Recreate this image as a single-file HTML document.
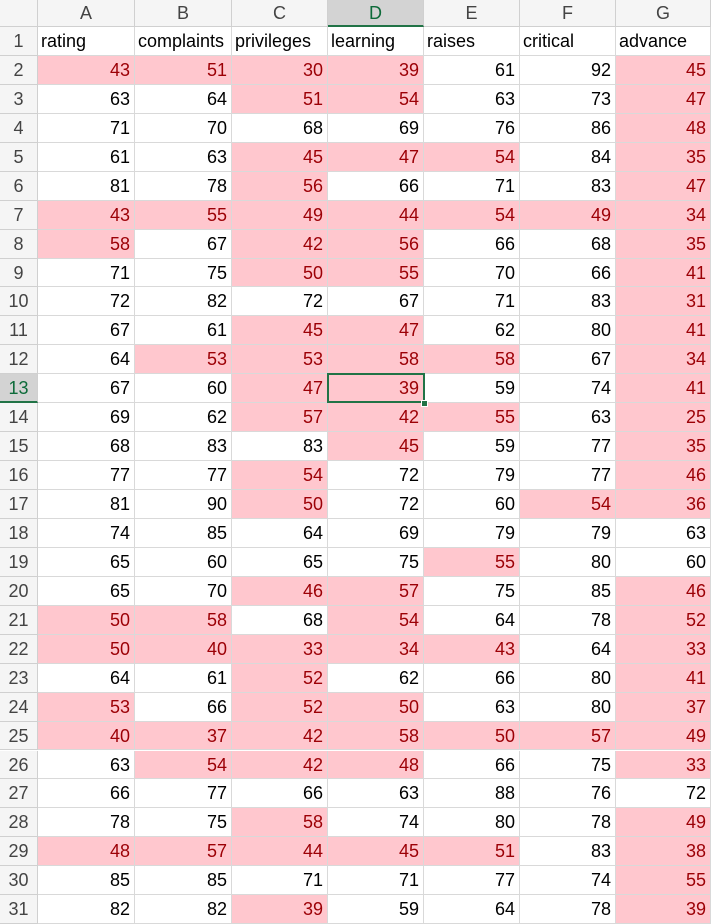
<!DOCTYPE html>
<html><head><meta charset="utf-8"><style>
body{margin:0;width:711px;height:924px;overflow:hidden;background:#fff;font-family:"Liberation Sans",sans-serif;}
#g{position:relative;width:711px;height:924px;}
.c{position:absolute;box-sizing:border-box;border-right:1px solid #d9d9d9;border-bottom:1px solid #d9d9d9;font-size:18px;line-height:28px;white-space:nowrap;overflow:hidden;color:#000;}
.h{background:#f5f5f5;color:#444;text-align:center;border-color:#d0d0d0;}
.n{text-align:right;padding-right:4px;}
.t{padding-left:3px;}
.p{background:#ffc7ce;color:#9c0006;}
.sel{background:#d3d3d3;color:#0e6b3a;border-bottom:2px solid #217346;}
</style></head><body>
<div id="g"></div>
<script>
const colNames=["A","B","C","D","E","F","G"];
const headers=["rating","complaints","privileges","learning","raises","critical","advance"];
const values=[
[43,51,30,39,61,92,45],[63,64,51,54,63,73,47],[71,70,68,69,76,86,48],[61,63,45,47,54,84,35],
[81,78,56,66,71,83,47],[43,55,49,44,54,49,34],[58,67,42,56,66,68,35],[71,75,50,55,70,66,41],
[72,82,72,67,71,83,31],[67,61,45,47,62,80,41],[64,53,53,58,58,67,34],[67,60,47,39,59,74,41],
[69,62,57,42,55,63,25],[68,83,83,45,59,77,35],[77,77,54,72,79,77,46],[81,90,50,72,60,54,36],
[74,85,64,69,79,79,63],[65,60,65,75,55,80,60],[65,70,46,57,75,85,46],[50,58,68,54,64,78,52],
[50,40,33,34,43,64,33],[64,61,52,62,66,80,41],[53,66,52,50,63,80,37],[40,37,42,58,50,57,49],
[63,54,42,48,66,75,33],[66,77,66,63,88,76,72],[78,75,58,74,80,78,49],[48,57,44,45,51,83,38],
[85,85,71,71,77,74,55],[82,82,39,59,64,78,39]];
const flags=[
"1111001","0011001","0000001","0011101","0010001","1111111","1011001","0011001",
"0000001","0011001","0111101","0011001","0011101","0001001","0010001","0010011",
"0000000","0000100","0011001","1101001","1111101","0010001","1011001","1111111",
"0111001","0000000","0010001","1111101","0000001","0010001"];
const xs=[0,38,135,232,328,424,520,616,711];
const g=document.getElementById('g');
const rowTop=r=>r===0?0:27+(r-1)*28.94;
function cell(x,y,w,h,txt,cls){const d=document.createElement('div');d.className='c '+cls;
d.style.left=x+'px';d.style.top=y+'px';d.style.width=w+'px';d.style.height=h+'px';d.textContent=txt;g.appendChild(d);return d;}
let corner=cell(0,0,38,27,'','h');


for(let c=0;c<7;c++){const d=cell(xs[c+1],0,xs[c+2]-xs[c+1],27,colNames[c],'h'+(c===3?' sel':''));d.style.lineHeight='27px';

}
for(let r=1;r<=31;r++){const y=rowTop(r),h=rowTop(r+1)-y;
const rh=cell(0,y,38,h,String(r),'h'+(r===13?' sel':''));


for(let c=0;c<7;c++){let d;
if(r===1){d=cell(xs[c+1],y,xs[c+2]-xs[c+1],h,headers[c],'t');}
else{const p=flags[r-2][c]==='1';d=cell(xs[c+1],y,xs[c+2]-xs[c+1],h,String(values[r-2][c]),'n'+(p?' p':''));}

}}
const s=document.createElement('div');


s.style.cssText='position:absolute;box-sizing:border-box;border:2px solid #217346;left:327px;top:'+(rowTop(13)-1)+'px;width:98px;height:'+(rowTop(14)-rowTop(13)+1)+'px;';
g.appendChild(s);
const hd=document.createElement('div');


hd.style.cssText='position:absolute;width:5px;height:5px;background:#217346;border:1px solid #fff;left:421px;top:'+(rowTop(14)-3)+'px;';
g.appendChild(hd);
</script>
</body></html>
